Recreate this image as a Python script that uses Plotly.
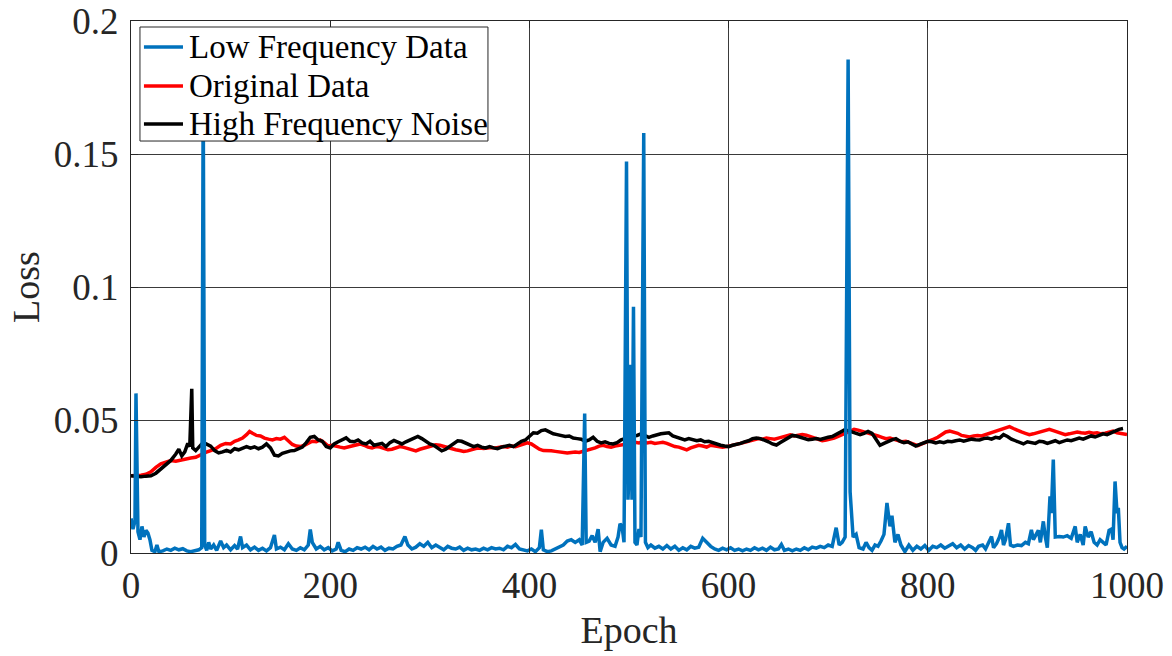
import plotly.graph_objects as go

# ---- training loss curves -------------------------------------------------
epoch_orig = [0, 5, 10, 15, 20, 25, 30, 35, 40, 45, 50, 55, 60, 65, 70, 75, 80, 85, 90, 95,
              100, 104, 108, 112, 116, 119, 122, 126, 130, 134, 138, 142, 146, 150, 154, 158,
              162, 166, 170, 174, 178, 182, 186, 190, 194, 198, 202, 206, 210, 214, 218, 222,
              226, 230, 234, 238, 242, 246, 250, 254, 258, 262, 266, 270, 274, 278, 282, 286,
              290, 294, 298, 302, 306, 310, 314, 318, 322, 326, 330, 334, 338, 342, 346, 350,
              354, 358, 362, 366, 370, 374, 378, 382, 386, 390, 394, 398, 402, 406, 410, 414,
              418, 422, 426, 430, 434, 438, 442, 446, 450, 454, 458, 462, 466, 470, 474, 478,
              482, 486, 490, 494, 498, 502, 506, 510, 514, 518, 522, 526, 530, 534, 538, 542,
              546, 550, 554, 558, 562, 566, 570, 574, 578, 582, 586, 590, 594, 598, 602, 606,
              610, 614, 618, 622, 626, 630, 634, 638, 642, 646, 650, 654, 658, 662, 666, 670,
              674, 678, 682, 686, 690, 694, 698, 702, 706, 710, 714, 718, 722, 726, 730, 734,
              738, 742, 746, 750, 754, 758, 762, 766, 770, 774, 778, 782, 786, 790, 794, 798,
              802, 806, 810, 814, 818, 822, 826, 830, 834, 838, 842, 846, 850, 854, 858, 862,
              866, 870, 874, 878, 882, 886, 890, 894, 898, 902, 906, 910, 914, 918, 922, 926,
              930, 934, 938, 942, 946, 950, 954, 958, 962, 966, 970, 974, 978, 982, 986, 990,
              994, 998, 1000]
loss_orig = [0.0290, 0.0290, 0.0292, 0.0296, 0.0305, 0.0322, 0.0335, 0.0342, 0.0348, 0.0345,
             0.0350, 0.0352, 0.0357, 0.0360, 0.0370, 0.0378, 0.0385, 0.0392, 0.0405, 0.0412,
             0.0410, 0.0420, 0.0425, 0.0432, 0.0445, 0.0457, 0.0450, 0.0442, 0.0440, 0.0432,
             0.0428, 0.0425, 0.0430, 0.0428, 0.0435, 0.0420, 0.0408, 0.0402, 0.0400, 0.0405,
             0.0412, 0.0420, 0.0418, 0.0425, 0.0415, 0.0402, 0.0405, 0.0400, 0.0398, 0.0395,
             0.0398, 0.0402, 0.0405, 0.0410, 0.0405, 0.0398, 0.0395, 0.0400, 0.0398, 0.0392,
             0.0388, 0.0390, 0.0395, 0.0400, 0.0397, 0.0393, 0.0388, 0.0384, 0.0390, 0.0395,
             0.0398, 0.0402, 0.0407, 0.0405, 0.0400, 0.0395, 0.0390, 0.0388, 0.0385, 0.0382,
             0.0384, 0.0390, 0.0393, 0.0395, 0.0393, 0.0395, 0.0397, 0.0395, 0.0398, 0.0400,
             0.0398, 0.0402, 0.0400, 0.0405, 0.0410, 0.0414, 0.0410, 0.0400, 0.0390, 0.0385,
             0.0386, 0.0384, 0.0382, 0.0380, 0.0378, 0.0376, 0.0378, 0.0380, 0.0378, 0.0382,
             0.0386, 0.0390, 0.0395, 0.0402, 0.0405, 0.0400, 0.0398, 0.0402, 0.0404, 0.0408,
             0.0410, 0.0412, 0.0416, 0.0414, 0.0418, 0.0414, 0.0416, 0.0412, 0.0414, 0.0416,
             0.0412, 0.0406, 0.0400, 0.0398, 0.0392, 0.0388, 0.0395, 0.0400, 0.0405, 0.0402,
             0.0398, 0.0405, 0.0403, 0.0400, 0.0398, 0.0400, 0.0403, 0.0405, 0.0410, 0.0414,
             0.0418, 0.0422, 0.0428, 0.0430, 0.0428, 0.0432, 0.0430, 0.0428, 0.0432, 0.0436,
             0.0440, 0.0444, 0.0440, 0.0442, 0.0445, 0.0443, 0.0438, 0.0432, 0.0428, 0.0422,
             0.0425, 0.0428, 0.0432, 0.0438, 0.0445, 0.0450, 0.0460, 0.0465, 0.0462, 0.0458,
             0.0455, 0.0450, 0.0445, 0.0440, 0.0435, 0.0430, 0.0432, 0.0428, 0.0422, 0.0418,
             0.0420, 0.0415, 0.0410, 0.0404, 0.0410, 0.0415, 0.0420, 0.0428, 0.0435, 0.0445,
             0.0455, 0.0458, 0.0455, 0.0450, 0.0442, 0.0438, 0.0436, 0.0440, 0.0442, 0.0440,
             0.0445, 0.0448, 0.0452, 0.0458, 0.0462, 0.0470, 0.0475, 0.0468, 0.0460, 0.0455,
             0.0450, 0.0445, 0.0448, 0.0452, 0.0456, 0.0462, 0.0465, 0.0460, 0.0455, 0.0448,
             0.0445, 0.0448, 0.0452, 0.0455, 0.0452, 0.0450, 0.0454, 0.0450, 0.0452, 0.0448,
             0.0450, 0.0455, 0.0458, 0.0452, 0.0448, 0.0444, 0.0445]

epoch_noise = [0, 5, 10, 15, 20, 25, 30, 35, 40, 45, 48, 51, 54, 57, 59, 61, 62, 65, 68, 71,
               74, 77, 80, 84, 88, 92, 96, 100, 104, 108, 112, 116, 120, 124, 128, 132, 136,
               140, 144, 148, 152, 156, 160, 164, 168, 172, 176, 180, 184, 188, 192, 196, 200,
               204, 208, 212, 216, 220, 224, 228, 232, 236, 240, 244, 248, 252, 256, 260, 264,
               268, 272, 276, 280, 284, 288, 292, 296, 300, 304, 308, 312, 316, 320, 324, 328,
               332, 336, 340, 344, 348, 352, 356, 360, 364, 368, 372, 376, 380, 384, 388, 392,
               396, 400, 404, 408, 412, 416, 420, 424, 428, 432, 436, 440, 444, 448, 452, 456,
               460, 464, 468, 472, 476, 480, 484, 488, 492, 496, 500, 504, 508, 512, 516, 520,
               524, 528, 532, 536, 540, 544, 548, 552, 556, 560, 564, 568, 572, 576, 580, 584,
               588, 592, 596, 600, 604, 608, 612, 616, 620, 624, 628, 632, 636, 640, 644, 648,
               652, 656, 660, 664, 668, 672, 676, 680, 684, 688, 692, 696, 700, 704, 708, 712,
               716, 720, 724, 728, 732, 736, 740, 744, 748, 752, 756, 760, 764, 768, 772, 776,
               780, 784, 788, 792, 796, 800, 804, 808, 812, 816, 820, 824, 828, 832, 836, 840,
               844, 848, 852, 856, 860, 864, 868, 872, 876, 880, 884, 888, 892, 896, 900, 904,
               908, 912, 916, 920, 924, 928, 932, 936, 940, 944, 948, 952, 956, 960, 964, 968,
               972, 976, 980, 984, 988, 992, 996, 1000]
loss_noise = [0.0290, 0.0288, 0.0287, 0.0289, 0.0290, 0.0300, 0.0315, 0.0330, 0.0348, 0.0372,
              0.0390, 0.0365, 0.0380, 0.0412, 0.0400, 0.0617, 0.0395, 0.0385, 0.0398, 0.0410,
              0.0413, 0.0408, 0.0402, 0.0385, 0.0376, 0.0380, 0.0386, 0.0380, 0.0392, 0.0388,
              0.0395, 0.0400, 0.0394, 0.0399, 0.0392, 0.0398, 0.0410, 0.0395, 0.0368, 0.0365,
              0.0375, 0.0380, 0.0384, 0.0385, 0.0392, 0.0398, 0.0415, 0.0435, 0.0438, 0.0425,
              0.0420, 0.0400, 0.0395, 0.0410, 0.0418, 0.0425, 0.0433, 0.0420, 0.0418, 0.0425,
              0.0414, 0.0410, 0.0420, 0.0405, 0.0407, 0.0412, 0.0400, 0.0415, 0.0423, 0.0415,
              0.0410, 0.0418, 0.0425, 0.0432, 0.0438, 0.0430, 0.0420, 0.0410, 0.0405, 0.0395,
              0.0384, 0.0390, 0.0400, 0.0410, 0.0422, 0.0420, 0.0414, 0.0408, 0.0400, 0.0405,
              0.0398, 0.0395, 0.0400, 0.0395, 0.0392, 0.0398, 0.0400, 0.0405, 0.0400, 0.0410,
              0.0420, 0.0425, 0.0440, 0.0452, 0.0450, 0.0460, 0.0463, 0.0455, 0.0448, 0.0445,
              0.0440, 0.0438, 0.0440, 0.0432, 0.0430, 0.0428, 0.0420, 0.0425, 0.0435, 0.0420,
              0.0414, 0.0418, 0.0412, 0.0410, 0.0415, 0.0425, 0.0430, 0.0438, 0.0440, 0.0442,
              0.0448, 0.0440, 0.0435, 0.0440, 0.0445, 0.0448, 0.0450, 0.0452, 0.0440, 0.0435,
              0.0428, 0.0425, 0.0430, 0.0426, 0.0422, 0.0425, 0.0418, 0.0420, 0.0414, 0.0410,
              0.0405, 0.0402, 0.0400, 0.0405, 0.0408, 0.0412, 0.0418, 0.0422, 0.0430, 0.0432,
              0.0430, 0.0425, 0.0418, 0.0410, 0.0406, 0.0415, 0.0425, 0.0432, 0.0442, 0.0440,
              0.0435, 0.0430, 0.0426, 0.0428, 0.0430, 0.0427, 0.0432, 0.0435, 0.0438, 0.0445,
              0.0452, 0.0462, 0.0460, 0.0456, 0.0452, 0.0445, 0.0450, 0.0457, 0.0450, 0.0425,
              0.0405, 0.0412, 0.0420, 0.0425, 0.0430, 0.0420, 0.0415, 0.0418, 0.0410, 0.0402,
              0.0408, 0.0415, 0.0420, 0.0418, 0.0414, 0.0418, 0.0415, 0.0420, 0.0418, 0.0422,
              0.0425, 0.0420, 0.0424, 0.0428, 0.0426, 0.0425, 0.0430, 0.0432, 0.0428, 0.0435,
              0.0432, 0.0445, 0.0438, 0.0428, 0.0422, 0.0415, 0.0410, 0.0418, 0.0415, 0.0412,
              0.0420, 0.0418, 0.0412, 0.0418, 0.0422, 0.0415, 0.0420, 0.0425, 0.0422, 0.0428,
              0.0432, 0.0428, 0.0435, 0.0440, 0.0436, 0.0442, 0.0448, 0.0445, 0.0450, 0.0458,
              0.0465, 0.0468]

epoch_low = [0, 2, 4, 5, 7, 9, 11, 13, 15, 17, 19, 21, 24, 26, 28, 32, 36, 40, 44, 48, 52,
             56, 60, 64, 68, 71, 72.5, 74, 76, 78, 80, 83, 86, 90, 93, 96, 100, 104, 107,
             110, 112, 116, 120, 124, 128, 132, 136, 140, 144, 146, 150, 154, 158, 162, 166,
             170, 174, 178, 180, 182, 186, 190, 194, 198, 202, 206, 208, 211, 215, 219, 223,
             227, 231, 235, 239, 243, 247, 251, 255, 259, 263, 267, 271, 275, 278, 282, 286,
             290, 294, 298, 302, 306, 310, 314, 318, 322, 326, 330, 334, 338, 342, 346, 350,
             354, 358, 362, 366, 370, 374, 378, 382, 386, 390, 394, 398, 402, 406, 410, 412,
             414, 418, 422, 426, 430, 434, 438, 442, 446, 450, 453, 455.5, 457, 460, 463, 466,
             469, 471, 474, 478, 482, 486, 489, 491, 493, 495, 497.5, 499, 500, 501.5, 503,
             504.5, 506, 508, 510, 512, 514.8, 516.5, 519, 522, 526, 530, 534, 538, 542, 546,
             550, 554, 558, 562, 566, 570, 574, 578, 582, 586, 590, 594, 598, 602, 606, 610,
             614, 618, 622, 626, 630, 634, 638, 642, 646, 650, 653, 656, 660, 664, 668, 672,
             676, 680, 684, 688, 692, 696, 700, 704, 708, 711, 714, 717, 720, 722, 725, 728,
             731, 735, 738, 741, 744, 747, 750, 753, 756, 759, 762, 764, 767, 770, 773, 777,
             781, 785, 789, 793, 797, 801, 805, 809, 813, 817, 821, 825, 829, 833, 837, 841,
             845, 848, 851, 855, 858, 861, 864, 866, 869, 872, 874, 876, 878, 881, 883, 886,
             890, 894, 898, 901, 904, 906, 909, 911, 913, 916, 918, 920, 922.7, 924, 926, 928,
             932, 936, 940, 944, 948, 950, 953, 956, 958, 961, 964, 967, 970, 973, 976, 979,
             982, 984.6, 986, 988, 990, 991.3, 993, 995, 997, 1000]
loss_low = [0.0130, 0.0090, 0.0120, 0.0600, 0.0080, 0.0050, 0.0100, 0.0060, 0.0085, 0.0075,
            0.0050, 0.0010, 0.0005, 0.0030, 0.0005, 0.0008, 0.0015, 0.0010, 0.0018, 0.0012,
            0.0016, 0.0008, 0.0005, 0.0008, 0.0012, 0.0020, 0.1750, 0.0030, 0.0010, 0.0040,
            0.0015, 0.0030, 0.0010, 0.0045, 0.0020, 0.0030, 0.0012, 0.0028, 0.0015, 0.0062,
            0.0020, 0.0030, 0.0012, 0.0022, 0.0010, 0.0018, 0.0008, 0.0020, 0.0068, 0.0015,
            0.0022, 0.0012, 0.0035, 0.0015, 0.0010, 0.0020, 0.0012, 0.0030, 0.0088, 0.0040,
            0.0015, 0.0025, 0.0012, 0.0020, 0.0008, 0.0015, 0.0040, 0.0010, 0.0005, 0.0015,
            0.0010, 0.0020, 0.0015, 0.0022, 0.0012, 0.0025, 0.0015, 0.0022, 0.0010, 0.0018,
            0.0015, 0.0025, 0.0030, 0.0062, 0.0030, 0.0015, 0.0022, 0.0035, 0.0025, 0.0040,
            0.0020, 0.0030, 0.0020, 0.0012, 0.0025, 0.0018, 0.0015, 0.0022, 0.0010, 0.0018,
            0.0012, 0.0015, 0.0010, 0.0018, 0.0012, 0.0020, 0.0015, 0.0018, 0.0012, 0.0025,
            0.0020, 0.0032, 0.0015, 0.0010, 0.0008, 0.0015, 0.0005, 0.0020, 0.0088, 0.0012,
            0.0005, 0.0008, 0.0015, 0.0025, 0.0030, 0.0045, 0.0050, 0.0040, 0.0050, 0.0030,
            0.0524, 0.0040, 0.0045, 0.0065, 0.0040, 0.0090, 0.0005, 0.0040, 0.0055, 0.0030,
            0.0025, 0.0060, 0.0110, 0.0100, 0.0040, 0.1472, 0.0200, 0.0300, 0.0708, 0.0200,
            0.0926, 0.0040, 0.0030, 0.0090, 0.0060, 0.1579, 0.0040, 0.0020, 0.0030, 0.0018,
            0.0025, 0.0015, 0.0028, 0.0015, 0.0025, 0.0010, 0.0020, 0.0012, 0.0025, 0.0018,
            0.0022, 0.0055, 0.0040, 0.0025, 0.0015, 0.0010, 0.0018, 0.0012, 0.0020, 0.0010,
            0.0015, 0.0008, 0.0015, 0.0010, 0.0020, 0.0012, 0.0018, 0.0010, 0.0022, 0.0012,
            0.0015, 0.0032, 0.0010, 0.0015, 0.0008, 0.0015, 0.0010, 0.0020, 0.0012, 0.0022,
            0.0018, 0.0025, 0.0020, 0.0030, 0.0025, 0.0095, 0.0030, 0.0040, 0.0060, 0.1855,
            0.0230, 0.0060, 0.0070, 0.0020, 0.0015, 0.0040, 0.0020, 0.0010, 0.0030, 0.0025,
            0.0045, 0.0070, 0.0188, 0.0100, 0.0140, 0.0040, 0.0070, 0.0030, 0.0005, 0.0030,
            0.0010, 0.0025, 0.0015, 0.0028, 0.0010, 0.0025, 0.0020, 0.0030, 0.0018, 0.0025,
            0.0035, 0.0020, 0.0030, 0.0015, 0.0028, 0.0020, 0.0010, 0.0025, 0.0030, 0.0015,
            0.0040, 0.0062, 0.0020, 0.0035, 0.0060, 0.0087, 0.0030, 0.0050, 0.0112, 0.0030,
            0.0025, 0.0030, 0.0028, 0.0040, 0.0035, 0.0087, 0.0050, 0.0075, 0.0085, 0.0040,
            0.0119, 0.0060, 0.0020, 0.0213, 0.0150, 0.0351, 0.0060, 0.0062, 0.0060, 0.0065,
            0.0055, 0.0100, 0.0040, 0.0070, 0.0030, 0.0100, 0.0060, 0.0080, 0.0040, 0.0030,
            0.0050, 0.0040, 0.0030, 0.0085, 0.0090, 0.0050, 0.0269, 0.0150, 0.0170, 0.0040,
            0.0020, 0.0015, 0.0025]

x_ticks = [0, 200, 400, 600, 800, 1000]
y_ticks = [0, 0.05, 0.1, 0.15, 0.2]
y_tick_text = ["0", "0.05", "0.1", "0.15", "0.2"]

# legend entries, top to bottom
legend_names = ["Low Frequency Data", "Original Data", "High Frequency Noise"]
legend_colors = ["#0072BD", "#FF0000", "#000000"]

FONT = "Liberation Serif, Times New Roman, serif"
AX = "#262626"
LW = 3.5

fig = go.Figure()
fig.add_trace(go.Scatter(x=epoch_orig, y=loss_orig, mode="lines", name="Original Data",
                         line=dict(color="#FF0000", width=LW)))
fig.add_trace(go.Scatter(x=epoch_noise, y=loss_noise, mode="lines", name="High Frequency Noise",
                         line=dict(color="#000000", width=LW)))
fig.add_trace(go.Scatter(x=epoch_low, y=loss_low, mode="lines", name="Low Frequency Data",
                         line=dict(color="#0072BD", width=LW)))

axis_common = dict(
    showline=True, linecolor=AX, linewidth=1, mirror="ticks",
    ticks="inside", ticklen=7, tickcolor=AX,
    showgrid=True, gridcolor="#3a3a3a", gridwidth=1,
    zeroline=False, automargin=False,
    tickfont=dict(family=FONT, size=37, color=AX),
)

fig.update_xaxes(range=[0, 1000], tickvals=x_ticks,
                 title=dict(text="Epoch", font=dict(family=FONT, size=38, color=AX), standoff=10),
                 **axis_common)
fig.update_yaxes(range=[0, 0.2], tickvals=y_ticks, ticktext=y_tick_text, ticklabelstandoff=4,
                 title=dict(text="Loss", font=dict(family=FONT, size=38, color=AX), standoff=2),
                 **axis_common)

# legend box in the upper-left corner of the axes (paper coordinates = axes area)
shapes = [dict(type="rect", xref="paper", yref="paper",
               x0=0.0090, x1=0.3584, y0=0.7744, y1=0.9887,
               line=dict(color=AX, width=1), fillcolor="white", layer="above")]
annotations = []
row_y = [0.9511, 0.8778, 0.8064]
for name, color, yy in zip(legend_names, legend_colors, row_y):
    shapes.append(dict(type="line", xref="paper", yref="paper",
                       x0=0.0130, x1=0.0522, y0=yy, y1=yy,
                       line=dict(color=color, width=LW), layer="above"))
    annotations.append(dict(xref="paper", yref="paper", x=0.0562, y=yy,
                            xanchor="left", yanchor="middle", showarrow=False,
                            text=name, font=dict(family=FONT, size=33, color="#000000")))

fig.update_layout(
    width=1172, height=656,
    margin=dict(l=131, r=45, t=21, b=103),
    paper_bgcolor="white", plot_bgcolor="white",
    font=dict(family=FONT, color="#000000"),
    showlegend=False,
    shapes=shapes,
    annotations=annotations,
)

fig.write_html("out.html")
